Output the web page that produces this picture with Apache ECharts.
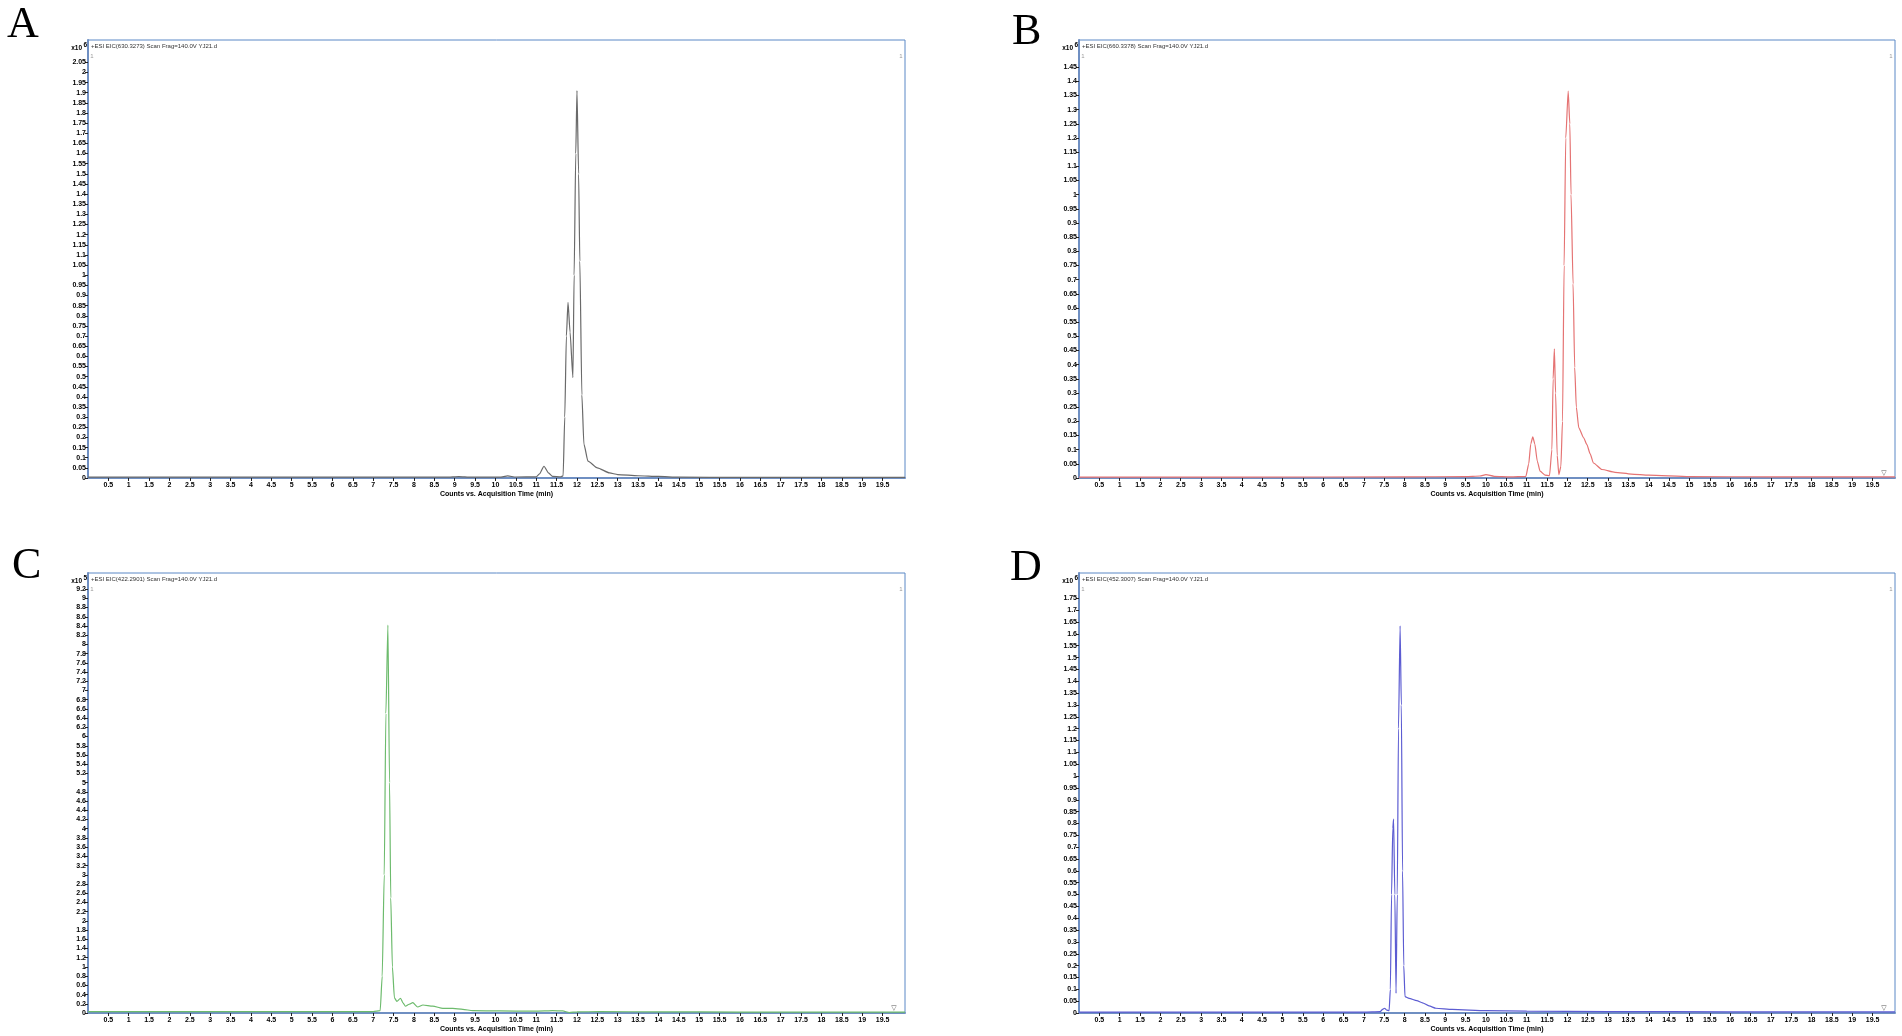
<!DOCTYPE html>
<html>
<head>
<meta charset="utf-8">
<script src="https://cdn.jsdelivr.net/npm/echarts@6/dist/echarts.min.js"></script>
<style>
html,body{margin:0;padding:0;background:#fff;}
#chart{width:1902px;height:1036px;}
</style>
</head>
<body>
<div id="chart"></div>
<script>
// ---------- data (x: min, y: counts in axis units) ----------
var xTickValues = [0.5,1,1.5,2,2.5,3,3.5,4,4.5,5,5.5,6,6.5,7,7.5,8,8.5,9,9.5,10,10.5,11,11.5,12,12.5,13,13.5,14,14.5,15,15.5,16,16.5,17,17.5,18,18.5,19,19.5];

var yTicksA = [0,0.05,0.1,0.15,0.2,0.25,0.3,0.35,0.4,0.45,0.5,0.55,0.6,0.65,0.7,0.75,0.8,0.85,0.9,0.95,1,1.05,1.1,1.15,1.2,1.25,1.3,1.35,1.4,1.45,1.5,1.55,1.6,1.65,1.7,1.75,1.8,1.85,1.9,1.95,2,2.05];
var yTicksB = [0,0.05,0.1,0.15,0.2,0.25,0.3,0.35,0.4,0.45,0.5,0.55,0.6,0.65,0.7,0.75,0.8,0.85,0.9,0.95,1,1.05,1.1,1.15,1.2,1.25,1.3,1.35,1.4,1.45];
var yTicksC = [0,0.2,0.4,0.6,0.8,1,1.2,1.4,1.6,1.8,2,2.2,2.4,2.6,2.8,3,3.2,3.4,3.6,3.8,4,4.2,4.4,4.6,4.8,5,5.2,5.4,5.6,5.8,6,6.2,6.4,6.6,6.8,7,7.2,7.4,7.6,7.8,8,8.2,8.4,8.6,8.8,9,9.2];
var yTicksD = [0,0.05,0.1,0.15,0.2,0.25,0.3,0.35,0.4,0.45,0.5,0.55,0.6,0.65,0.7,0.75,0.8,0.85,0.9,0.95,1,1.05,1.1,1.15,1.2,1.25,1.3,1.35,1.4,1.45,1.5,1.55,1.6,1.65,1.7,1.75];

var timeA = [0,3,6,8.8,9.1,9.4,10.1,10.3,10.5,11.0,11.08,11.19,11.3,11.4,11.6,11.66,11.7,11.74,11.78,11.83,11.9,11.93,11.97,12.0,12.04,12.07,12.12,12.17,12.27,12.5,12.8,13.0,13.5,14.0,14.5,16,18,20.05];
var intensityA = [0.004,0.004,0.004,0.004,0.007,0.004,0.004,0.010,0.005,0.006,0.02,0.058,0.025,0.008,0.006,0.01,0.3,0.7,0.866,0.72,0.495,1.0,1.6,1.91,1.5,1.07,0.41,0.167,0.083,0.05,0.025,0.017,0.011,0.008,0.004,0.003,0.003,0.003];

var timeB = [0,4,8,9.5,9.85,10.0,10.2,10.6,10.98,11.05,11.1,11.15,11.2,11.26,11.33,11.45,11.56,11.62,11.65,11.68,11.71,11.75,11.79,11.84,11.88,11.92,11.96,12.02,12.06,12.09,12.14,12.18,12.22,12.28,12.4,12.48,12.56,12.64,12.85,13.17,13.57,14.0,15.0,17,19,20.05];
var intensityB = [0.003,0.003,0.004,0.005,0.007,0.012,0.006,0.004,0.006,0.05,0.12,0.145,0.12,0.06,0.024,0.01,0.008,0.1,0.35,0.456,0.3,0.08,0.012,0.04,0.2,0.75,1.2,1.366,1.25,1.0,0.685,0.39,0.25,0.177,0.142,0.118,0.085,0.053,0.03,0.02,0.014,0.01,0.005,0.004,0.004,0.004];

var timeC = [0,3,6,7.0,7.17,7.22,7.27,7.31,7.36,7.40,7.43,7.47,7.52,7.58,7.67,7.73,7.79,7.88,7.97,8.09,8.22,8.46,8.71,8.95,9.2,9.44,10.1,10.9,11.2,11.4,11.65,11.81,12.0,12.55,14,16,18,20.05];
var intensityC = [0.03,0.03,0.03,0.03,0.05,0.8,3.0,6.5,8.42,5.0,2.5,1.0,0.33,0.25,0.32,0.22,0.146,0.19,0.225,0.13,0.174,0.15,0.1,0.1,0.08,0.05,0.045,0.04,0.045,0.05,0.045,0.01,0.025,0.03,0.025,0.02,0.02,0.02];

var timeD = [0,4,7.0,7.4,7.46,7.51,7.56,7.62,7.65,7.68,7.71,7.73,7.76,7.79,7.82,7.85,7.89,7.92,7.95,7.98,8.01,8.11,8.3,8.44,8.6,8.77,9.17,10,11,13,16,20.05];
var intensityD = [0.004,0.004,0.004,0.006,0.015,0.02,0.012,0.01,0.1,0.5,0.78,0.818,0.5,0.083,0.5,1.2,1.634,1.3,0.6,0.2,0.069,0.062,0.052,0.043,0.03,0.02,0.015,0.01,0.008,0.006,0.005,0.005];

var titles = [
  '+ESI EIC(630.3273) Scan Frag=140.0V YJ21.d',
  '+ESI EIC(660.3378) Scan Frag=140.0V YJ21.d',
  '+ESI EIC(422.2901) Scan Frag=140.0V YJ21.d',
  '+ESI EIC(452.3007) Scan Frag=140.0V YJ21.d'
];
var panelLetters = ['A','B','C','D'];
var exponents = ['6','6','5','6'];
var yMaxes = [2.16, 1.546, 9.55, 1.857];
var xName = 'Counts vs. Acquisition Time (min)';
var lineColors = ['#6a6a6a','#e57373','#6dbb6d','#5c5cd2'];

// ---------- layout ----------
var grids = [
  {left:88, top:40, width:817, height:438},
  {left:1079, top:40, width:816, height:438},
  {left:88, top:573, width:817, height:440},
  {left:1079, top:573, width:816, height:440}
];
var letterPos = [[7,25],[1012,32],[12,566],[1010,568]];
var yTickSets = [yTicksA, yTicksB, yTicksC, yTicksD];
var seriesTimes = [timeA, timeB, timeC, timeD];
var seriesVals = [intensityA, intensityB, intensityC, intensityD];
var showTriangle = [false, true, true, true];

var FONT = '"Liberation Sans Narrow", "Liberation Sans", Arial, sans-serif';

function pairs(xs, ys){ var out=[]; for(var i=0;i<xs.length;i++){ out.push([xs[i], ys[i]]); } return out; }

var option = {
  animation:false,
  backgroundColor:'#fff',
  grid:[], xAxis:[], yAxis:[], series:[], graphic:[]
};

for (var p=0;p<4;p++){
  var g = grids[p];
  option.grid.push({left:g.left, top:g.top, width:g.width, height:g.height, show:true, borderColor:'#5b88c6', borderWidth:1, backgroundColor:'#fff'});
  option.xAxis.push({
    type:'value', gridIndex:p, min:0, max:20.05,
    axisLine:{show:true, onZero:false, lineStyle:{color:'#6f8fc2', width:2}},
    axisTick:{show:true, customValues:xTickValues, length:3, lineStyle:{color:'#222', width:1}},
    axisLabel:{show:true, customValues:xTickValues, fontSize:7, fontWeight:'bold', color:'#000', margin:4, fontFamily:FONT},
    splitLine:{show:false},
    name:xName, nameLocation:'middle', nameGap:13,
    nameTextStyle:{fontSize:7, fontWeight:'bold', color:'#000', fontFamily:FONT}
  });
  option.yAxis.push({
    type:'value', gridIndex:p, min:0, max:yMaxes[p],
    axisLine:{show:true, onZero:false, lineStyle:{color:'#6f8fc2', width:2}},
    axisTick:{show:true, customValues:yTickSets[p], length:3, lineStyle:{color:'#222', width:1}},
    axisLabel:{show:true, customValues:yTickSets[p], fontSize:7, fontWeight:'bold', color:'#000', margin:2, fontFamily:FONT},
    splitLine:{show:false}
  });
  option.series.push({
    type:'line', xAxisIndex:p, yAxisIndex:p,
    data:pairs(seriesTimes[p], seriesVals[p]),
    showSymbol:false, symbol:'none', smooth:0.2, smoothMonotone:'x',
    lineStyle:{color:lineColors[p], width:1.2}, clip:true
  });
  option.graphic.push({type:'text', x:letterPos[p][0], y:letterPos[p][1],
    style:{text:panelLetters[p], fontSize:44, fontFamily:'"Liberation Serif", "Times New Roman", serif', fill:'#000', align:'left', verticalAlign:'middle'}});
  option.graphic.push({type:'text', x:g.left+3, y:g.top+6,
    style:{text:titles[p], fontSize:6, fontFamily:'"Liberation Sans", Arial, sans-serif', fill:'#333', align:'left', verticalAlign:'middle'}});
  option.graphic.push({type:'text', x:g.left-6, y:g.top+8.5,
    style:{text:'x10', fontSize:6.5, fontWeight:'bold', fontFamily:FONT, fill:'#000', align:'right', verticalAlign:'middle'}});
  option.graphic.push({type:'text', x:g.left-4.5, y:g.top+5.5,
    style:{text:exponents[p], fontSize:6.5, fontWeight:'bold', fontFamily:FONT, fill:'#000', align:'left', verticalAlign:'middle'}});
  option.graphic.push({type:'text', x:g.left+4, y:g.top+16,
    style:{text:'1', fontSize:6, fontFamily:'"Liberation Sans", Arial, sans-serif', fill:'#999', align:'center', verticalAlign:'middle'}});
  option.graphic.push({type:'text', x:g.left+g.width-4, y:g.top+16,
    style:{text:'1', fontSize:6, fontFamily:'"Liberation Sans", Arial, sans-serif', fill:'#999', align:'center', verticalAlign:'middle'}});
  if (showTriangle[p]) {
    option.graphic.push({type:'text', x:g.left+g.width-11, y:g.top+g.height-5,
      style:{text:'\u25BD', fontSize:7, fontFamily:'"DejaVu Sans", sans-serif', fill:'#555', align:'center', verticalAlign:'middle'}});
  }
}

var chart = echarts.init(document.getElementById('chart'), null, {renderer:'canvas', width:1902, height:1036});
chart.setOption(option);
</script>
</body>
</html>
